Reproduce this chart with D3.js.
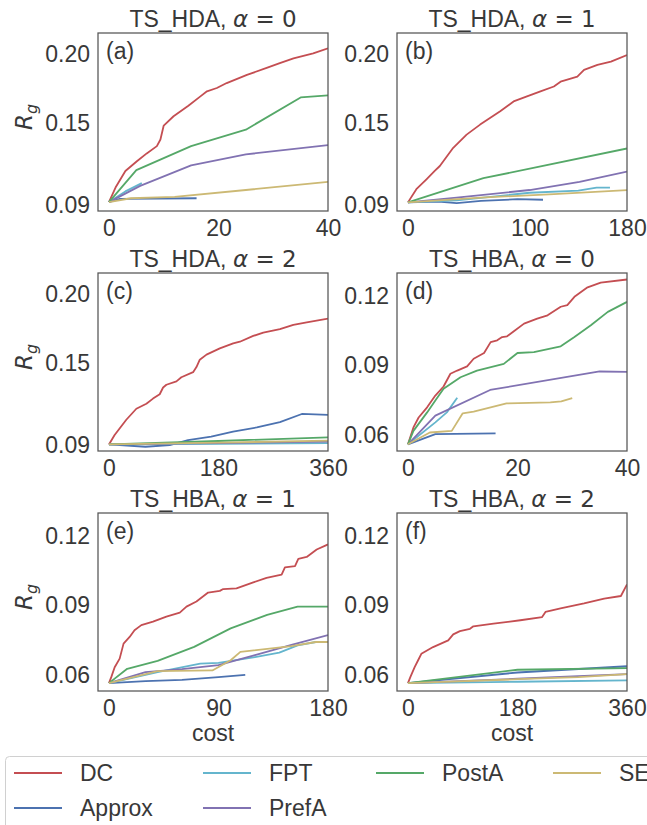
<!DOCTYPE html>
<html>
<head>
<meta charset="utf-8">
<script src="https://cdn.jsdelivr.net/npm/d3@7"></script>
<style>
  body { margin: 0; background: #fff; }
  svg { display: block; }
</style>
</head>
<body>
<script>
var w = 647;
var h = 825;

// series names, in plotting / legend order
var methods = ["DC", "Approx", "FPT", "PrefA", "PostA", "SE"];
var colors = ["#c44e52", "#4c72b0", "#64b5cd", "#8172b2", "#55a868", "#ccb974"];

// panel titles
var graphs = ["TS_HDA", "TS_HDA", "TS_HDA", "TS_HBA", "TS_HBA", "TS_HBA"];
var alphas = [0, 1, 2, 0, 1, 2];
var letters = ["(a)", "(b)", "(c)", "(d)", "(e)", "(f)"];

// axis ticks
var xTicksA = [0, 20, 40];
var xTicksB = [0, 100, 180];
var xTicksC = [0, 180, 360];
var xTicksD = [0, 20, 40];
var xTicksE = [0, 90, 180];
var xTicksF = [0, 180, 360];
var yTicksHDA = [0.09, 0.15, 0.20];
var yTicksHBA = [0.06, 0.09, 0.12];

// (a) TS_HDA, alpha = 0   [cost, Rg]
var a_DC = [[0,0.0922],[1.2,0.1028],[3,0.1149],[5.1,0.122],[6.9,0.1277],[8.75,0.133],[9.4,0.1378],[10,0.148],[11.8,0.1548],[14.5,0.1625],[16.7,0.1693],[17.9,0.173],[19.7,0.1754],[21.5,0.179],[25.2,0.185],[28.8,0.19],[31.2,0.1935],[33.7,0.197],[37.3,0.2007],[40,0.2043]];
var a_Approx = [[0,0.0922],[2,0.0945],[16,0.095]];
var a_FPT = [[0,0.0922],[3,0.1],[6,0.106]];
var a_PrefA = [[0,0.0922],[5.7,0.104],[15,0.119],[25,0.127],[40,0.1337]];
var a_PostA = [[0,0.0922],[5,0.1155],[15,0.133],[25,0.145],[35,0.1685],[40,0.17]];
var a_SE = [[0,0.0922],[4,0.095],[12,0.096],[25,0.101],[40,0.107]];

// (b) TS_HDA, alpha = 1
var b_DC = [[0,0.092],[6.9,0.1016],[15.2,0.1088],[22,0.1149],[26.2,0.1185],[37.2,0.1318],[48.2,0.1414],[59.3,0.1487],[75.8,0.1584],[86.8,0.1656],[97.8,0.1693],[108.9,0.1729],[119.9,0.1765],[125.4,0.18],[139.2,0.1837],[144.7,0.1886],[155.7,0.1922],[166.8,0.1946],[180,0.1994]];
var b_Approx = [[0,0.092],[25,0.0925],[40,0.0915],[60,0.0931],[90,0.0943],[111,0.0939]];
var b_FPT = [[0,0.092],[40,0.0935],[100,0.099],[140,0.1005],[155,0.1028],[166,0.1028]];
var b_PrefA = [[0,0.092],[40,0.0955],[100,0.101],[141,0.107],[180,0.1144]];
var b_PostA = [[0,0.092],[62,0.1096],[180,0.1313]];
var b_SE = [[0,0.092],[60,0.0955],[120,0.098],[180,0.1009]];

// (c) TS_HDA, alpha = 2
var c_DC = [[0,0.0905],[9.3,0.0974],[28.5,0.1085],[45,0.1165],[61.5,0.1202],[72.4,0.1239],[83.4,0.1271],[89,0.132],[94.4,0.134],[110.9,0.1365],[119,0.1395],[138.3,0.1432],[143.8,0.1469],[149.3,0.1523],[160.3,0.156],[182.2,0.1605],[204.2,0.1642],[215.2,0.1654],[237.1,0.1696],[253.6,0.172],[281,0.1745],[303,0.1777],[325,0.1795],[360,0.1822]];
var c_Approx = [[0,0.0905],[60,0.0888],[100,0.09],[130,0.0937],[168,0.0962],[204,0.0999],[243,0.1029],[281,0.1068],[317,0.1127],[360,0.112]];
var c_FPT = [[0,0.0905],[180,0.091],[360,0.0915]];
var c_PrefA = [[0,0.0905],[180,0.0915],[360,0.0925]];
var c_PostA = [[0,0.0905],[180,0.093],[360,0.0957]];
var c_SE = [[0,0.0905],[180,0.0918],[360,0.0932]];

// (d) TS_HBA, alpha = 0
var d_DC = [[0,0.0559],[1,0.0632],[1.95,0.0675],[3.5,0.0719],[5,0.077],[6.5,0.0809],[7.75,0.0864],[9,0.0878],[10.8,0.0896],[12,0.0929],[13.9,0.0954],[15.1,0.1001],[16.3,0.1009],[17.2,0.1023],[18.1,0.1026],[19.4,0.1049],[21.2,0.1081],[23.6,0.1103],[25.5,0.1117],[27.9,0.1154],[29.1,0.1161],[30.4,0.1197],[32.8,0.1238],[35.2,0.1258],[40,0.1272]];
var d_Approx = [[0,0.0559],[5,0.0603],[16,0.0606]];
var d_FPT = [[0,0.0559],[5,0.0654],[7.1,0.0697],[9,0.076]];
var d_PrefA = [[0,0.0559],[5,0.0683],[15,0.0794],[35,0.0874],[40,0.0872]];
var d_PostA = [[0,0.0559],[1,0.0617],[3.5,0.0697],[5,0.0748],[6.5,0.0799],[9.6,0.0849],[12.6,0.0878],[17.5,0.0907],[20,0.0954],[23,0.0958],[27.9,0.0983],[30.4,0.1023],[33.4,0.1074],[36.5,0.1132],[40,0.1175]];
var d_SE = [[0,0.0559],[4,0.061],[8,0.0617],[10,0.0693],[12,0.07],[18,0.0736],[26,0.074],[28,0.0745],[30,0.0759]];

// (e) TS_HBA, alpha = 1
var e_DC = [[0,0.0564],[1.9,0.059],[4.7,0.0633],[8.8,0.067],[12,0.0735],[17,0.0764],[21,0.0793],[26.6,0.0815],[36.2,0.083],[47.2,0.0852],[58.2,0.0869],[63.7,0.0895],[71.9,0.0917],[81.5,0.0956],[91.1,0.0963],[93.9,0.0971],[104.8,0.0974],[118.6,0.1],[129.5,0.1019],[141.9,0.1033],[144.6,0.1065],[152.9,0.107],[155.6,0.1102],[162.5,0.111],[170.7,0.1142],[180,0.1164]];
var e_Approx = [[0,0.0564],[30,0.0573],[60,0.0578],[90,0.059],[112,0.06]];
var e_FPT = [[0,0.0564],[40,0.0612],[75,0.0648],[90,0.0652],[120,0.0677],[140,0.0696],[155,0.0727],[170,0.0742]];
var e_PrefA = [[0,0.0564],[30,0.0612],[60,0.0625],[90,0.0642],[120,0.0685],[150,0.073],[180,0.0772]];
var e_PostA = [[0,0.0564],[15,0.0626],[40,0.066],[70,0.0721],[100,0.0801],[130,0.0859],[155,0.0895],[180,0.0895]];
var e_SE = [[0,0.0564],[20,0.059],[40,0.0616],[85,0.0619],[100,0.0663],[108,0.0699],[150,0.0724],[170,0.0742],[180,0.0742]];

// (f) TS_HBA, alpha = 2
var f_DC = [[0,0.0564],[3.9,0.059],[11,0.0633],[16.5,0.0662],[22,0.0691],[41.3,0.072],[66.2,0.0749],[74.4,0.0775],[85.4,0.0789],[102,0.0799],[107.5,0.081],[140.6,0.0821],[184.7,0.0836],[220.5,0.085],[226,0.0872],[250.8,0.0887],[289.4,0.0909],[322.5,0.093],[350,0.0941],[360,0.0991]];
var f_Approx = [[0,0.0564],[180,0.061],[360,0.0637]];
var f_FPT = [[0,0.0564],[180,0.057],[360,0.0576]];
var f_PrefA = [[0,0.0564],[180,0.0583],[360,0.0603]];
var f_PostA = [[0,0.0564],[180,0.0622],[360,0.0629]];
var f_SE = [[0,0.0564],[180,0.0581],[280,0.059],[360,0.0603]];

var panelSeries = [
  [a_DC, a_Approx, a_FPT, a_PrefA, a_PostA, a_SE],
  [b_DC, b_Approx, b_FPT, b_PrefA, b_PostA, b_SE],
  [c_DC, c_Approx, c_FPT, c_PrefA, c_PostA, c_SE],
  [d_DC, d_Approx, d_FPT, d_PrefA, d_PostA, d_SE],
  [e_DC, e_Approx, e_FPT, e_PrefA, e_PostA, e_SE],
  [f_DC, f_Approx, f_FPT, f_PrefA, f_PostA, f_SE]
];
var panelXTicks = [xTicksA, xTicksB, xTicksC, xTicksD, xTicksE, xTicksF];
var panelYTicks = [yTicksHDA, yTicksHDA, yTicksHDA, yTicksHBA, yTicksHBA, yTicksHBA];

// layout
var colX = [98, 397];
var rowY = [33, 273, 513];
var pw = 230, ph = 178;
var textFont = "'Liberation Sans', Arial, sans-serif";
var mathFont = "'DejaVu Sans', sans-serif";
var textColor = "#383838";

var svg = d3.select("body")
            .append("svg")
            .attr("width", w)
            .attr("height", h)
            .style("font-family", textFont);

panelSeries.forEach(function(series, i) {
  var col = i % 2, row = Math.floor(i / 2);
  var x0 = colX[col], y0 = rowY[row];
  var xt = panelXTicks[i];
  var xmax = xt[xt.length - 1];

  var x = d3.scaleLinear().domain([-0.05 * xmax, xmax]).range([x0, x0 + pw]);
  var y = d3.scaleLinear()
            .domain(i < 3 ? [0.0857, 0.2155] : [0.053, 0.130])
            .range([y0 + ph, y0]);

  var g = svg.append("g");

  var clipId = "clip" + i;
  g.append("clipPath").attr("id", clipId)
   .append("rect").attr("x", x0).attr("y", y0).attr("width", pw).attr("height", ph);

  //lines
  var line = d3.line()
               .x(function(d) { return x(d[0]); })
               .y(function(d) { return y(d[1]); });

  g.append("g").attr("clip-path", "url(#" + clipId + ")")
   .selectAll("path")
   .data(series)
   .enter()
   .append("path")
   .attr("d", line)
   .attr("fill", "none")
   .attr("stroke", function(d, k) { return colors[k]; })
   .attr("stroke-width", 1.8)
   .attr("stroke-linejoin", "round");

  //frame
  g.append("rect")
   .attr("x", x0).attr("y", y0)
   .attr("width", pw).attr("height", ph)
   .attr("fill", "none")
   .attr("stroke", "#555")
   .attr("stroke-width", 1.25);

  //x axis
  var xAxis = d3.axisBottom(x).tickValues(xt).tickSize(0).tickPadding(9).tickFormat(d3.format("d"));
  var xa = g.append("g").attr("transform", "translate(0," + (y0 + ph) + ")").call(xAxis);
  xa.select(".domain").remove();
  xa.selectAll("text").attr("font-size", 23).attr("font-family", textFont).attr("fill", textColor);

  //y axis
  var yAxis = d3.axisLeft(y).tickValues(panelYTicks[i]).tickSize(0).tickPadding(8).tickFormat(d3.format(".2f"));
  var ya = g.append("g").attr("transform", "translate(" + x0 + ",0)").call(yAxis);
  ya.select(".domain").remove();
  ya.selectAll("text").attr("font-size", 23).attr("font-family", textFont).attr("fill", textColor);

  //title
  var t = g.append("text")
           .attr("x", x0 + pw / 2)
           .attr("y", y0 - 6)
           .attr("text-anchor", "middle")
           .attr("font-size", 23)
           .attr("fill", textColor);
  t.append("tspan").text(graphs[i] + ", ");
  t.append("tspan").attr("font-family", mathFont).attr("font-style", "italic").text("\u03b1");
  t.append("tspan").attr("font-family", mathFont).text(" = " + alphas[i]);

  //panel letter
  g.append("text")
   .attr("x", x0 + 8)
   .attr("y", y0 + 26)
   .attr("font-size", 23)
   .attr("fill", textColor)
   .text(letters[i]);

  //y label
  if (col === 0) {
    var yl = g.append("text")
              .attr("transform", "translate(32," + (y0 + ph / 2 - 5) + ") rotate(-90)")
              .attr("text-anchor", "middle")
              .attr("font-family", mathFont)
              .attr("font-style", "italic")
              .attr("font-size", 23)
              .attr("fill", textColor);
    yl.append("tspan").text("R");
    yl.append("tspan").attr("font-size", 16).attr("dy", 5).text("g");
  }

  //x label
  if (row === 2) {
    g.append("text")
     .attr("x", x0 + pw / 2)
     .attr("y", y0 + ph + 50)
     .attr("text-anchor", "middle")
     .attr("font-size", 23)
     .attr("fill", textColor)
     .text("cost");
  }
});

//legend: 4 columns, filled column by column (2, 2, 1, 1)
var legend = svg.append("g");
legend.append("rect")
      .attr("x", 5.5).attr("y", 756.5)
      .attr("width", 660).attr("height", 90)
      .attr("rx", 4)
      .attr("fill", "#fff")
      .attr("stroke", "#d0d0d0");

var legX = [14, 203, 376, 553];
var legY = [773, 808];
var legCol = [0, 0, 1, 1, 2, 3];
var legRow = [0, 1, 0, 1, 0, 0];
var items = legend.selectAll("g.item")
                  .data(methods)
                  .enter()
                  .append("g")
                  .attr("class", "item")
                  .attr("transform", function(d, k) {
                    return "translate(" + legX[legCol[k]] + "," + legY[legRow[k]] + ")";
                  });
items.append("line")
     .attr("x1", 0).attr("x2", 48)
     .attr("stroke", function(d, k) { return colors[k]; })
     .attr("stroke-width", 2);
items.append("text")
     .attr("x", 66)
     .attr("y", 8)
     .attr("font-size", 23)
     .attr("fill", textColor)
     .text(function(d) { return d; });
</script>
</body>
</html>
